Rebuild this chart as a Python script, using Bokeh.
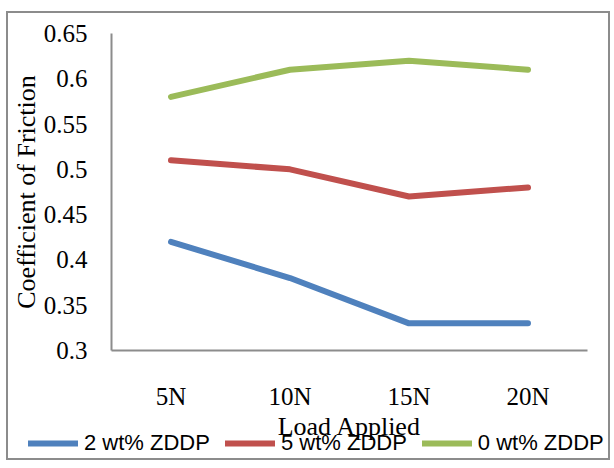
from bokeh.plotting import figure
from bokeh.layouts import column
from bokeh.models import Legend, LegendItem, Range1d
from bokeh.embed import file_html
from bokeh.resources import INLINE

loads = ["5N", "10N", "15N", "20N"]
zddp2 = [0.42, 0.38, 0.33, 0.33]
zddp5 = [0.51, 0.50, 0.47, 0.48]
zddp0 = [0.58, 0.61, 0.62, 0.61]
series_names = ["2 wt% ZDDP", "5 wt% ZDDP", "0 wt% ZDDP"]
colors = ["#4F81BD", "#C0504D", "#9BBB59"]
y_ticks = [0.3, 0.35, 0.4, 0.45, 0.5, 0.55, 0.6, 0.65]
series = [zddp2, zddp5, zddp0]

p = figure(x_range=loads, y_range=Range1d(0.3, 0.65), width=600, height=430,
           output_backend="svg", toolbar_location=None,
           min_border_left=102, min_border_right=21, min_border_top=20, min_border_bottom=92)
p.frame_align = False
p.outline_line_color = None
p.xgrid.visible = False
p.ygrid.visible = False

for vals, c in zip(series, colors):
    p.line(loads, vals, line_color=c, line_width=6, line_cap="round", line_join="round")

serif = "Liberation Serif"
for ax in (p.xaxis[0], p.yaxis[0]):
    ax.axis_line_color = "#8c8c8c"
    ax.axis_line_width = 2
    ax.major_tick_line_color = None
    ax.minor_tick_line_color = None
    ax.major_tick_out = 0
    ax.major_tick_in = 0
    ax.major_label_text_font = serif
    ax.major_label_text_font_size = "25px"
    ax.major_label_text_color = "black"
    ax.axis_label_text_font = serif
    ax.axis_label_text_font_size = "26px"
    ax.axis_label_text_font_style = "normal"
    ax.axis_label_text_color = "black"

p.yaxis.ticker = y_ticks
p.yaxis.major_label_overrides = {0.3: "0.3", 0.35: "0.35", 0.4: "0.4", 0.45: "0.45",
                                 0.5: "0.5", 0.55: "0.55", 0.6: "0.6", 0.65: "0.65"}
p.yaxis.major_label_standoff = 24
p.yaxis.major_label_text_baseline = "top"
p.yaxis.axis_label = "Coefficient of Friction"
p.yaxis.axis_label_standoff = 0
p.xaxis.major_label_standoff = 32
p.xaxis.axis_label = "Load Applied"
p.xaxis.axis_label_standoff = -1

# legend strip (its proxy lines use the same data but lie outside the visible range)
lg = figure(x_range=loads, y_range=Range1d(10, 11), width=600, height=30,
            output_backend="svg", toolbar_location=None,
            x_axis_type=None, y_axis_type=None,
            min_border_left=0, min_border_right=0, min_border_top=0, min_border_bottom=0)
lg.frame_align = False
lg.outline_line_color = None
lg.background_fill_alpha = 0
lg.border_fill_alpha = 0
lg.xgrid.visible = False
lg.ygrid.visible = False
lg.styles = {"margin-top": "-15px"}
keys = [lg.line(loads, vals, line_color=c, line_width=6, line_cap="round")
        for vals, c in zip(series, colors)]
legend = Legend(items=[LegendItem(label=n, renderers=[r]) for n, r in zip(series_names, keys)],
                orientation="horizontal", location=(20, 2),
                label_text_font="Liberation Sans", label_text_font_size="22px",
                label_text_color="black",
                glyph_width=50, label_standoff=6, spacing=15, padding=0, margin=0,
                border_line_color=None, background_fill_alpha=0)
lg.add_layout(legend, "center")

layout = column(p, lg, spacing=0,
                styles={"border": "2px solid #8c8c8c", "margin-top": "11px", "margin-left": "6px"})

open("out.html", "w").write(file_html(layout, INLINE))
